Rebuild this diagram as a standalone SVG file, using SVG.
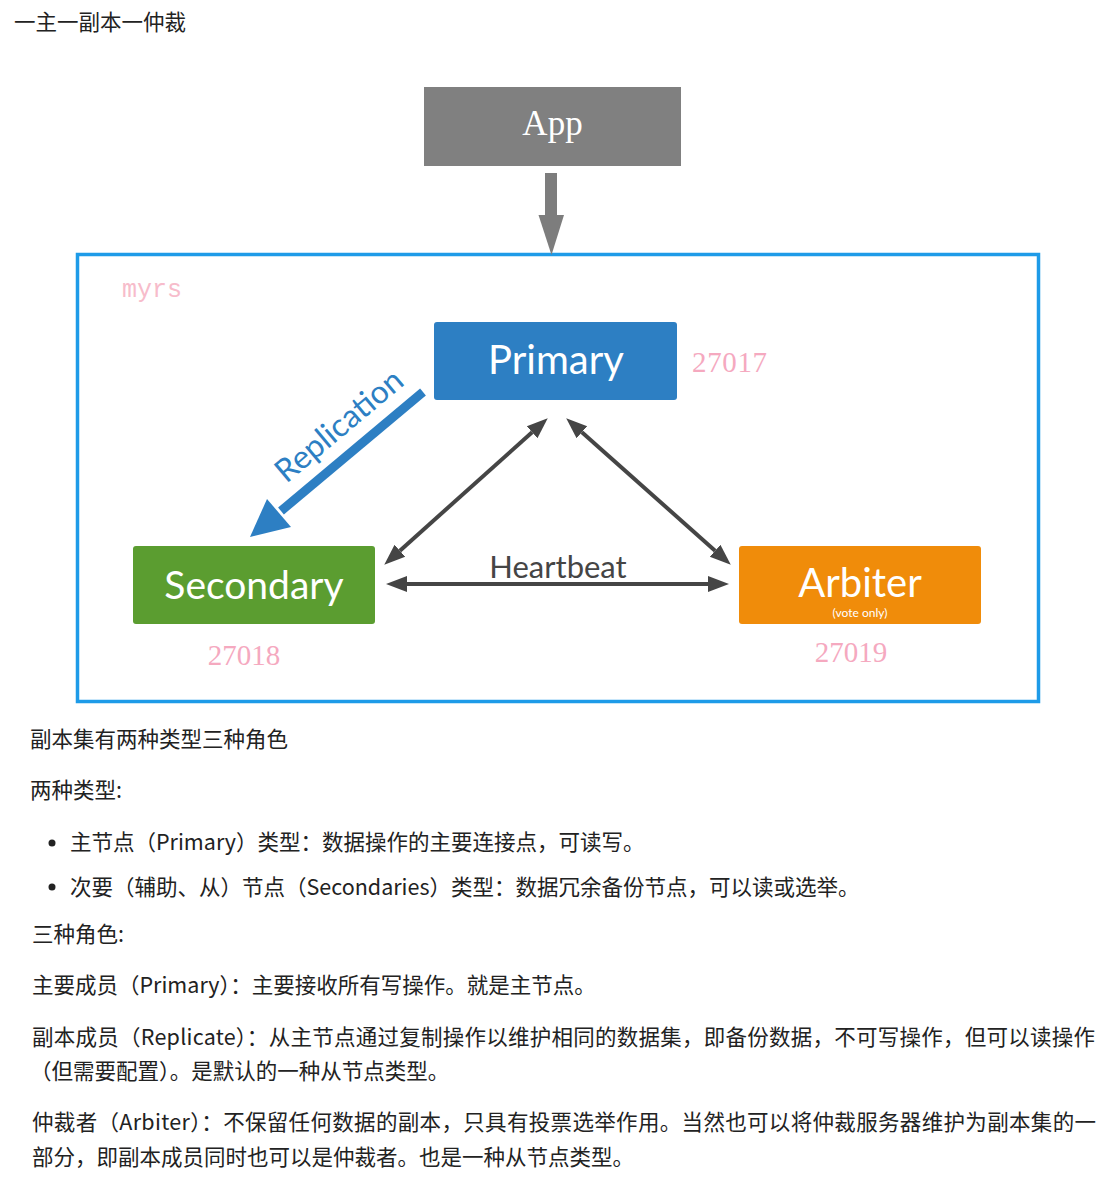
<svg xmlns="http://www.w3.org/2000/svg" width="1112" height="1185" viewBox="0 0 1112 1185">
<style>
.cn{font-family:"Noto Sans CJK SC","Noto Sans",sans-serif;font-size:21.5px;fill:#222}
.lbl{font-family:Lato,"Open Sans",sans-serif;fill:#fff;text-anchor:middle}
.port{font-family:"Liberation Serif",serif;font-size:29px;fill:#f5a9bf}
.gl{stroke:#454545;stroke-width:4;fill:none}
</style>
<defs>
<marker id="ah" markerUnits="userSpaceOnUse" markerWidth="24" markerHeight="20" refX="0" refY="0" viewBox="0 -10 24 20" orient="auto-start-reverse">
<path d="M0,-8 L21,0 L0,8 z" fill="#454545"/>
</marker>
</defs>
<rect width="1112" height="1185" fill="#fff"/>
<text class="cn" x="14" y="30">一主一副本一仲裁</text>

<g id="app">
<rect x="424" y="87" width="257" height="79" fill="#808080"/>
<text x="552.5" y="135" font-family="Liberation Serif,serif" font-size="35" fill="#fff" text-anchor="middle">App</text>
</g>

<g id="replicaset">
<rect x="77.5" y="254.5" width="961" height="447" fill="none" stroke="#1e9be8" stroke-width="3.5"/>
<text x="122" y="297" font-family="Liberation Mono,monospace" font-size="25" fill="#f7bccb">myrs</text>
</g>

<g id="primary">
<rect x="434" y="322" width="243" height="78" rx="3" fill="#2d7fc3"/>
<text class="lbl" x="556" y="374" font-size="40">Primary</text>
<text class="port" x="692" y="372" textLength="75">27017</text>
</g>

<g id="secondary">
<rect x="133" y="546" width="242" height="78" rx="3" fill="#5b9d30"/>
<text class="lbl" x="254" y="599" font-size="39">Secondary</text>
<text class="port" x="244" y="665" text-anchor="middle">27018</text>
</g>

<g id="arbiter">
<rect x="739" y="546" width="242" height="78" rx="3" fill="#f08c0a"/>
<text class="lbl" x="860" y="597" font-size="40">Arbiter</text>
<text class="lbl" x="860" y="617" font-size="12">(vote only)</text>
<text class="port" x="851" y="662" text-anchor="middle">27019</text>
</g>

<g id="connectors">
<rect x="545" y="173" width="12" height="43" fill="#7d7d7d"/>
<polygon points="538.5,215 564,215 551.5,255" fill="#7d7d7d"/>
<line x1="423" y1="392" x2="281" y2="511" stroke="#2d7fc3" stroke-width="9"/>
<polygon points="250,537 291,527 267,499" fill="#2d7fc3"/>
<text x="346" y="434" transform="rotate(-40 346 434)" font-family="Lato,sans-serif" font-size="32" fill="#2d7fc3" text-anchor="middle">Replication</text>
<line class="gl" x1="532.1" y1="432.3" x2="399.9" y2="550.7" marker-start="url(#ah)" marker-end="url(#ah)"/>
<line class="gl" x1="581.9" y1="432.3" x2="715.1" y2="550.7" marker-start="url(#ah)" marker-end="url(#ah)"/>
<line class="gl" x1="407" y1="584" x2="708" y2="584" marker-start="url(#ah)" marker-end="url(#ah)"/>
<text x="558" y="578" font-family="Lato,sans-serif" font-size="31" fill="#454545" text-anchor="middle">Heartbeat</text>
</g>

<text class="cn" x="30" y="747">副本集有两种类型三种角色</text>
<text class="cn" x="30" y="798">两种类型:</text>
<circle cx="52" cy="843" r="3.5" fill="#222"/>
<text class="cn" x="70" y="850">主节点（Primary）类型：数据操作的主要连接点，可读写。</text>
<circle cx="52" cy="887" r="3.5" fill="#222"/>
<text class="cn" x="70" y="895">次要（辅助、从）节点（Secondaries）类型：数据冗余备份节点，可以读或选举。</text>
<text class="cn" x="32" y="942">三种角色:</text>
<text class="cn" x="32" y="993">主要成员（Primary）：主要接收所有写操作。就是主节点。</text>
<text class="cn" x="32" y="1045" textLength="1063" lengthAdjust="spacing">副本成员（Replicate）：从主节点通过复制操作以维护相同的数据集，即备份数据，不可写操作，但可以读操作</text>
<text class="cn" x="30" y="1079">（但需要配置）。是默认的一种从节点类型。</text>
<text class="cn" x="32" y="1130" textLength="1064" lengthAdjust="spacing">仲裁者（Arbiter）：不保留任何数据的副本，只具有投票选举作用。当然也可以将仲裁服务器维护为副本集的一</text>
<text class="cn" x="32" y="1165">部分，即副本成员同时也可以是仲裁者。也是一种从节点类型。</text>
</svg>
